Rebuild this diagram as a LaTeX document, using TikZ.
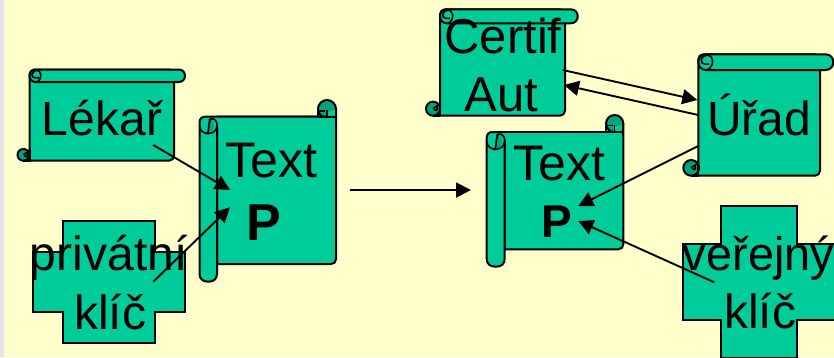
\documentclass[tikz,border=0pt]{standalone}
\usepackage{fontspec}
\setmainfont{Liberation Sans}
\usetikzlibrary{arrows.meta}
\definecolor{paper}{HTML}{FFFFCC}
\definecolor{strip}{HTML}{E4E4E4}
\definecolor{teal}{HTML}{00CC99}
\definecolor{dteal}{HTML}{00A37A}
\tikzset{
  shape line/.style={draw=black,line width=2pt,fill=teal,line join=round},
  curl/.style={draw=black,line width=2pt,fill=dteal},
  thin curl/.style={draw=black,line width=1.6pt},
  lbl/.style={font=\fontsize{#1}{#1}\selectfont,anchor=base,inner sep=0pt,text=black},
  lbl/.default=48,
  lblb/.style={font=\fontsize{#1}{#1}\selectfont\bfseries,anchor=base,inner sep=0pt,text=black},
  link/.style={draw=black,line width=1.9pt,-{Triangle[length=15pt,width=15pt]}},
}
% x0 curl left, x1 body left, x2 body right, x3 bar right, ytop, ybar, ycurl, ybot
\newcommand{\hscrollshape}[8]{%
  \pgfmathsetmacro{\rr}{(#6-#5)/2}%
  \pgfmathsetmacro{\rc}{(#8-#7)/2}%
  \path[shape line,rounded corners=5pt] (#2,#5) -- (#3,#5) -- (#3,#8) -- (#1+\rc,#8) -- (#2,#8) -- cycle;
  \path[curl] (#1+\rc,#7+\rc) circle[radius=\rc];
  \draw[thin curl] (#1+\rc,#7+\rc) .. controls (#1+\rc+3,#7+\rc-3) and (#1+\rc+6,#7+\rc-2) .. (#2,#7);
  \draw[shape line,fill=none] (#1+\rc,#8) -- (#2,#8) -- (#2,#7);
  \draw[thin curl] (#1+\rc+1,#7+\rc+1) .. controls (#1+\rc+4,#7+\rc+3) and (#1+\rc+5,#7+\rc) .. (#1+\rc+4,#7+\rc-2);
  \path[shape line] (#2+\rr,#5) -- (#4-\rr,#5) .. controls (#4-\rr/3,#5) and (#4,#5+\rr/2) .. (#4,#5+\rr)
     .. controls (#4,#6-\rr/2) and (#4-\rr/3,#6) .. (#4-\rr,#6) -- (#2+\rr,#6)
     .. controls (#2+\rr/3,#6) and (#2,#6-\rr/2) .. (#2,#5+\rr)
     .. controls (#2,#5+\rr/2) and (#2+\rr/3,#5) .. (#2+\rr,#5) -- cycle;
  \draw[thin curl] (#2+\rr+1,#6) .. controls (#2+2*\rr+1,#6-\rr/2) and (#2+2*\rr,#5) .. (#2+\rr,#5+1)
     .. controls (#2+2,#5+2) and (#2+1,#5+\rr+2) .. (#2+\rr-1,#5+\rr+2) -- (#2+\rr+3,#5+\rr+2);
}
% xl bar left, xb bar right, xr body right, xc curl left, yc curl top, yt top, yb body bottom, ybar bar bottom
\newcommand{\vscrollshape}[8]{%
  \pgfmathsetmacro{\rr}{(#2-#1)/2}%
  \pgfmathsetmacro{\rc}{(#3-#4)/2}%
  \path[curl] (#3-\rc,#5+\rc) circle[radius=\rc];
  \path[shape line] (#3,#5+\rc) -- (#3,#7-5) .. controls (#3,#7-2) and (#3-2,#7) .. (#3-5,#7) -- (#2,#7) -- (#2,#6) -- (#3,#6);
  \path[fill=teal] (#3-1,#5+\rc+1) -- (#3-1,#6+3) -- (#4+\rc,#6+3) -- (#4+\rc,#5+\rc+3) -- cycle;
  \draw[thin curl] (#4,#6) -- (#4,#5+\rc+2);
  \draw[thin curl] (#4+\rc,#5+\rc+1) -- (#4+\rc,#6);
  \draw[thin curl] (#4+1,#5+\rc+2) -- (#4+\rc-2,#5+\rc+2);
  \draw[line width=2pt] (#3,#5+\rc) -- (#3,#6+4);
  \draw[line width=2pt] (#4,#6) -- (#3,#6);
  \path[shape line] (#1+6,#6) -- (#4,#6) -- (#4,#6+\rr) -- (#2,#6+\rr) -- (#2,#8-8) .. controls (#2,#8-3) and (#2-3,#8) .. (#1+\rr,#8)
    .. controls (#1+3,#8) and (#1,#8-3) .. (#1,#8-8) -- (#1,#6+6) .. controls (#1,#6+2) and (#1+2,#6) .. (#1+6,#6) -- cycle;
  \path[fill=teal] (#2+1,#6+1) rectangle (#3-1,#6+\rr+2);
  \path[fill=dteal] (#1+\rr,#6+2) .. controls (#2-1,#6+2) and (#2-1,#6+2*\rr-1) .. (#1+\rr,#6+2*\rr-1) -- cycle;
  \draw[thin curl] (#1,#6+\rr) .. controls (#1,#6+2*\rr+2) and (#2,#6+2*\rr+2) .. (#2,#6+\rr) .. controls (#2,#6+2) and (#1+\rr+4,#6+1) .. (#1+\rr+1,#6+3);
  \draw[thin curl] (#1+\rr-2,#6+2*\rr) .. controls (#1+\rr+2,#6+2*\rr-2) and (#1+\rr-1,#6+\rr) .. (#1+\rr+2,#6+3);
}
% x1 outer left, x2 inner left, x3 inner right, x4 outer right, y1 top, y2 upper notch, y3 lower notch, y4 bottom
\newcommand{\plusshape}[8]{%
  \path[shape line,line join=miter] (#2,#5) -- (#3,#5) -- (#3,#6) -- (#4,#6) -- (#4,#7) -- (#3,#7) -- (#3,#8) -- (#2,#8) -- (#2,#7) -- (#1,#7) -- (#1,#6) -- (#2,#6) -- cycle;
}
\begin{document}
\begin{tikzpicture}[x=1pt,y=-1pt]
\useasboundingbox (0,0) rectangle (834,357);
\clip (0,0) rectangle (834,357);
\fill[paper] (0,0) rectangle (834,357);
\fill[strip] (0,0) rectangle (4,357);

\hscrollshape{17.5}{29.5}{174}{185}{69.5}{82}{149}{160.7}
\vscrollshape{199.5}{217}{336}{318}{100}{116.7}{264}{281.7}
\plusshape{33}{63.3}{155}{185}{221}{251.7}{312.3}{342.7}

\hscrollshape{426}{440}{565}{577.7}{9.3}{23.3}{101.7}{115.7}
\hscrollshape{683.3}{698.3}{820}{833.3}{54.3}{70}{160}{175.7}
\vscrollshape{486.7}{504.7}{623.3}{606}{115}{132}{249.3}{266.7}
\plusshape{683.3}{721.3}{797.3}{835.3}{206}{244}{320}{358}

\node[lbl] (lekar) at (102,135) {Lékař};
\node[lbl=50] (text1) at (271,177) {Text};
\node[lblb=52] (p1) at (263.5,240) {P};
\node[lbl] (priv) at (108.7,270) {privátní};
\node[lbl] (klic1) at (110,329) {klíč};
\node[lbl=49] (certif) at (503,53.3) {Certif};
\node[lbl=49] (aut) at (501.7,111.7) {Aut};
\node[lbl] (urad) at (759.3,135) {Úřad};
\node[lbl=50] (text2) at (559,180) {Text};
\node[lblb=46] (p2) at (557,237) {P};
\node[lbl=47] (verej) at (758.5,270) {veřejný};
\node[lbl] (klic2) at (760,328) {klíč};

\coordinate (a1) at (153.3,145);   \coordinate (a2) at (230,190);
\coordinate (b1) at (153.3,281.7); \coordinate (b2) at (230,207.3);
\coordinate (c1) at (350,190);     \coordinate (c2) at (471,190);
\coordinate (d1) at (562.7,70);    \coordinate (d2) at (697.3,100);
\coordinate (e1) at (698.3,115);   \coordinate (e2) at (564,85);
\coordinate (f1) at (698.3,146);   \coordinate (f2) at (578.3,206);
\coordinate (g1) at (714.3,282.3); \coordinate (g2) at (578.3,221);
\draw[link] (a1) -- (a2);
\draw[link] (b1) -- (b2);
\draw[link] (c1) -- (c2);
\draw[link] (d1) -- (d2);
\draw[link] (e1) -- (e2);
\draw[link] (f1) -- (f2);
\draw[link] (g1) -- (g2);
\end{tikzpicture}
\end{document}
